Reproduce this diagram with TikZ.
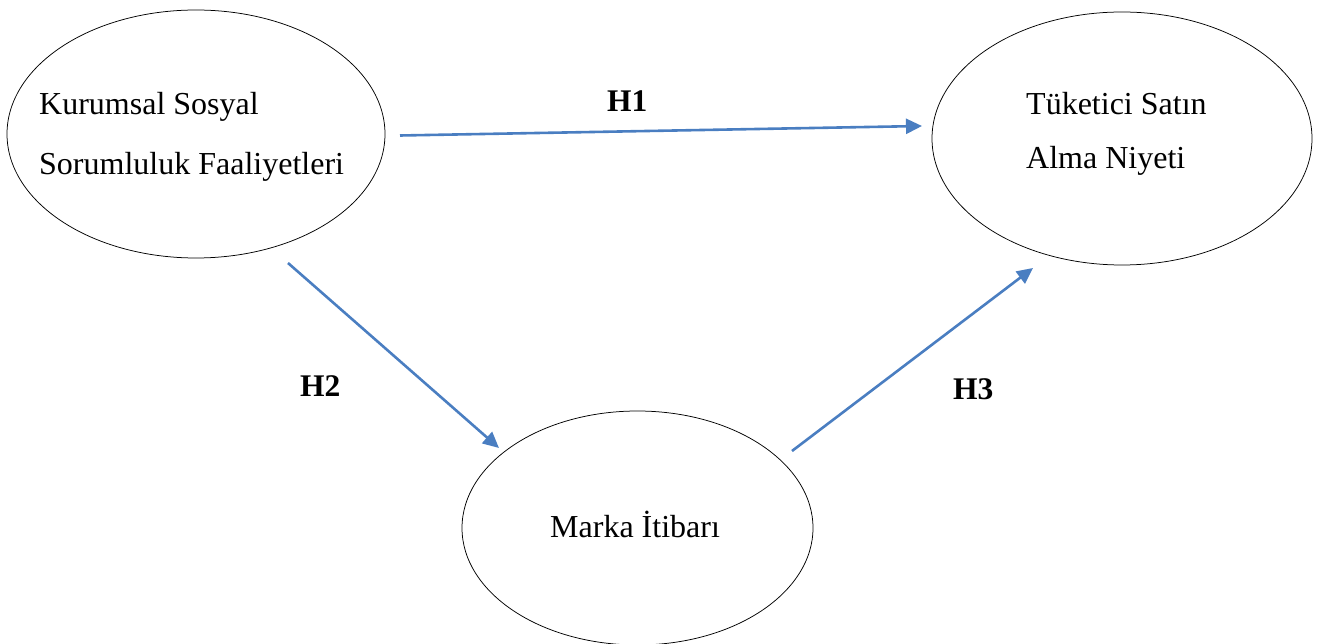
\documentclass[tikz,border=0pt]{standalone}
\usepackage{fontspec}
\setmainfont{Liberation Serif}
\usetikzlibrary{arrows.meta,shapes.geometric}
\definecolor{linkblue}{RGB}{74,126,193}
\begin{document}
\begin{tikzpicture}[x=1pt,y=-1pt,
  construct/.style={draw=black,line width=0.75pt,ellipse,inner sep=0pt},
  bodytext/.style={font=\fontsize{32}{37}\selectfont,inner sep=0pt,anchor=base west},
  hyplabel/.style={font=\fontsize{31.5}{36}\selectfont\bfseries,inner sep=0pt,anchor=base west},
  link/.style={draw=linkblue,line width=2.6pt,-{Triangle[length=16pt,width=15pt]}}]
\useasboundingbox (0,0) rectangle (1320,644);
% constructs
\node[construct,minimum width=378pt,minimum height=248pt] (css) at (196,134) {};
\node[construct,minimum width=380pt,minimum height=253pt] (tsa) at (1122,138.5) {};
\node[construct,minimum width=351pt,minimum height=234pt] (mi) at (637.5,528) {};
% construct names
\node[bodytext] (css1) at (39,115) {Kurumsal Sosyal};
\node[bodytext] (css2) at (39,175) {Sorumluluk Faaliyetleri};
\node[bodytext] (tsa1) at (1026,115) {Tüketici Satın};
\node[bodytext] (tsa2) at (1026,169) {Alma Niyeti};
\node[bodytext] (mi1) at (550,537) {Marka İtibarı};
% path end points
\coordinate (h1s) at (400,135.5);
\coordinate (h1e) at (922,126);
\coordinate (h2s) at (288,263);
\coordinate (h2e) at (499,448);
\coordinate (h3s) at (792,451);
\coordinate (h3e) at (1033,268);
% hypothesised paths
\draw[link] (h1s) -- (h1e);
\draw[link] (h2s) -- (h2e);
\draw[link] (h3s) -- (h3e);
% hypothesis labels
\node[hyplabel] (lh1) at (607,112) {H1};
\node[hyplabel] (lh2) at (300,396) {H2};
\node[hyplabel] (lh3) at (953,399) {H3};
\end{tikzpicture}
\end{document}
